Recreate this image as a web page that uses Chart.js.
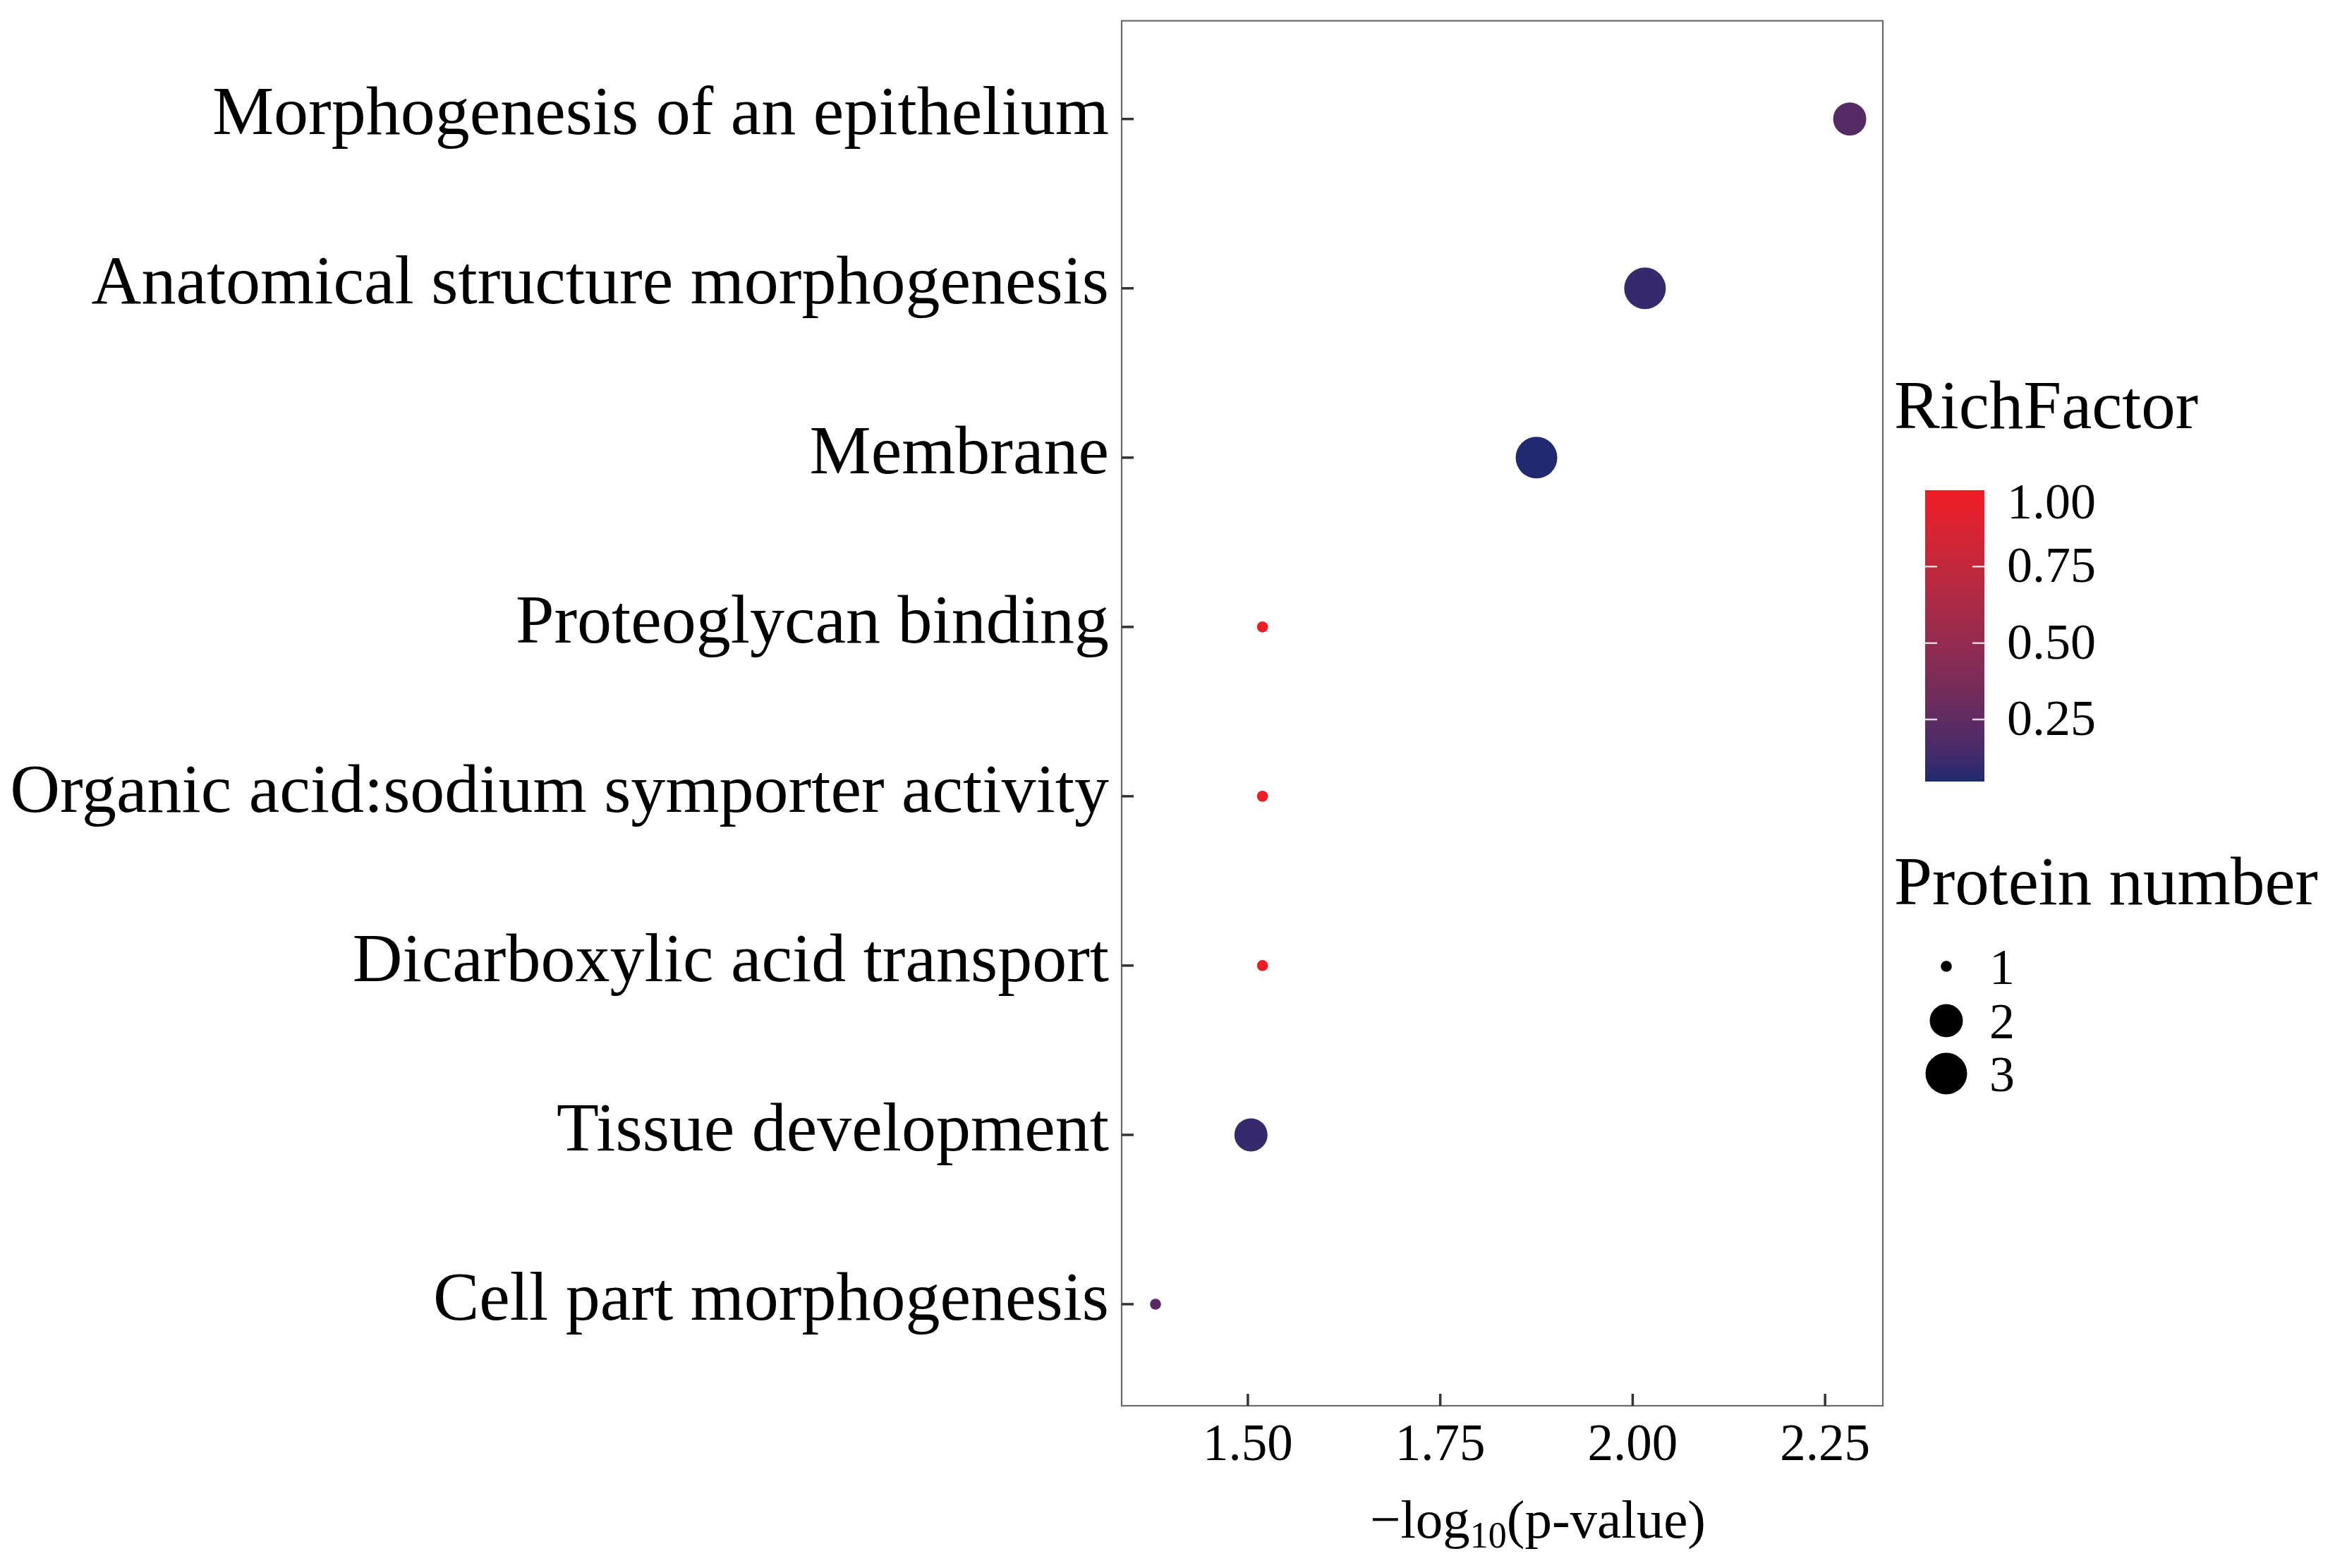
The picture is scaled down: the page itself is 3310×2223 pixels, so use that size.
<!DOCTYPE html>
<html><head><meta charset="utf-8">
<script src="https://cdn.jsdelivr.net/npm/chart.js@4.4.1/dist/chart.umd.min.js"></script>
<style>html,body{margin:0;padding:0;background:#fff;overflow:hidden}</style>
</head><body>
<canvas id="c" width="3310" height="2223" style="width:3310px;height:2223px;display:block"></canvas>
<script>
const categories = [
  "Morphogenesis of an epithelium",
  "Anatomical structure morphogenesis",
  "Membrane",
  "Proteoglycan binding",
  "Organic acid:sodium symporter activity",
  "Dicarboxylic acid transport",
  "Tissue development",
  "Cell part morphogenesis"
];
const negLog10P = [2.282, 2.016, 1.875, 1.519, 1.519, 1.519, 1.504, 1.380];
const richFactor = [0.20, 0.10, 0.05, 1.00, 1.00, 1.00, 0.10, 0.22];
const proteinNumber = [2, 3, 3, 1, 1, 1, 2, 1];
const xTickValues = [1.50, 1.75, 2.00, 2.25];
const colorbarTicks = [0.25, 0.50, 0.75, 1.00];
const sizeLegendValues = [1, 2, 3];

const FONT = "'Liberation Serif','Times New Roman',serif";
const RF_MIN = 0.047, RF_MAX = 1.0;
const LOW = [31, 42, 112], HIGH = [240, 28, 36];
const RADIUS = {1: 7.8, 2: 23.5, 3: 29.5};

function s2l(c){c/=255;return c<=0.04045?c/12.92:Math.pow((c+0.055)/1.055,2.4);}
function l2s(c){const v=c<=0.0031308?12.92*c:1.055*Math.pow(c,1/2.4)-0.055;return Math.round(Math.max(0,Math.min(1,v))*255);}
function rgb2lab(c){const r=s2l(c[0]),g=s2l(c[1]),b=s2l(c[2]);
  let x=(0.4124*r+0.3576*g+0.1805*b)/0.95047,y=(0.2126*r+0.7152*g+0.0722*b),z=(0.0193*r+0.1192*g+0.9505*b)/1.08883;
  const f=t=>t>0.008856?Math.cbrt(t):7.787*t+16/116;x=f(x);y=f(y);z=f(z);
  return [116*y-16,500*(x-y),200*(y-z)];}
function lab2rgb(l){let y=(l[0]+16)/116,x=l[1]/500+y,z=y-l[2]/200;
  const fi=t=>{const t3=t*t*t;return t3>0.008856?t3:(t-16/116)/7.787;};
  x=fi(x)*0.95047;y=fi(y);z=fi(z)*1.08883;
  return [l2s(3.2406*x-1.5372*y-0.4986*z),l2s(-0.9689*x+1.8758*y+0.0415*z),l2s(0.0557*x-0.2040*y+1.0570*z)];}
const LAB_LOW = rgb2lab(LOW), LAB_HIGH = rgb2lab(HIGH);
function rfColor(v){
  const t=Math.max(0,Math.min(1,(v-RF_MIN)/(RF_MAX-RF_MIN)));
  const c=lab2rgb([0,1,2].map(i=>LAB_LOW[i]+(LAB_HIGH[i]-LAB_LOW[i])*t));
  return `rgb(${c[0]},${c[1]},${c[2]})`;
}

const points = negLog10P.map((x,i)=>({x:x,y:i}));

const decor = {
  id:'decor',
  afterDraw(chart){
    const ctx=chart.ctx, a=chart.chartArea, xs=chart.scales.x, ys=chart.scales.y;
    ctx.save();
    ctx.strokeStyle='#6a6a6a'; ctx.lineWidth=2.2;
    ctx.strokeRect(a.left,a.top,a.right-a.left,a.bottom-a.top);
    ctx.strokeStyle='#333'; ctx.lineWidth=3.5;
    xTickValues.forEach(v=>{const px=xs.getPixelForValue(v);ctx.beginPath();ctx.moveTo(px,a.bottom);ctx.lineTo(px,a.bottom-17);ctx.stroke();});
    categories.forEach((c,i)=>{const py=ys.getPixelForValue(i);ctx.beginPath();ctx.moveTo(a.left,py);ctx.lineTo(a.left+17,py);ctx.stroke();});
    ctx.fillStyle='#000'; ctx.textBaseline='alphabetic'; ctx.textAlign='left';
    const big='77px '+FONT, small='52px '+FONT;
    ctx.font=big; const w1=ctx.measureText('\u2212log').width, w3=ctx.measureText('(p-value)').width;
    ctx.font=small; const w2=ctx.measureText('10').width;
    let x0=2180-(w1+w2+w3)/2; const yb=2180;
    ctx.font=big; ctx.fillText('\u2212log',x0,yb); x0+=w1;
    ctx.font=small; ctx.fillText('10',x0,yb+14); x0+=w2;
    ctx.font=big; ctx.fillText('(p-value)',x0,yb);
    ctx.font='97px '+FONT; ctx.fillText('RichFactor',2685,607);
    const cbL=2729,cbR=2813,cbT=695,cbB=1108;
    const g=ctx.createLinearGradient(0,cbB,0,cbT);
    for(let k=0;k<=40;k++){const t=k/40;g.addColorStop(t,rfColor(RF_MIN+(RF_MAX-RF_MIN)*t));}
    ctx.fillStyle=g; ctx.fillRect(cbL,cbT,cbR-cbL,cbB-cbT);
    const cbY=v=>cbB-(v-RF_MIN)/(RF_MAX-RF_MIN)*(cbB-cbT);
    ctx.strokeStyle='rgba(235,235,235,0.9)'; ctx.lineWidth=2.5;
    colorbarTicks.forEach(v=>{const py=cbY(v); if(v<RF_MAX){ctx.beginPath();ctx.moveTo(cbL,py);ctx.lineTo(cbL+17,py);ctx.moveTo(cbR-17,py);ctx.lineTo(cbR,py);ctx.stroke();}});
    ctx.fillStyle='#000'; ctx.font='72px '+FONT; ctx.textBaseline='middle';
    colorbarTicks.forEach(v=>{const py=Math.max(cbY(v)+3,cbT+21);ctx.fillText(v.toFixed(2),2845,py);});
    ctx.textBaseline='alphabetic'; ctx.font='97px '+FONT; ctx.fillText('Protein number',2685,1282);
    const sy=[1370,1447,1522];
    ctx.font='72px '+FONT; ctx.textBaseline='middle';
    sizeLegendValues.forEach((v,i)=>{
      ctx.fillStyle='#000'; ctx.beginPath(); ctx.arc(2759,sy[i],RADIUS[v],0,Math.PI*2); ctx.fill();
      ctx.fillText(String(v),2820,sy[i]+6);
    });
    ctx.restore();
  }
};

new Chart(document.getElementById('c'),{
  type:'scatter',
  data:{datasets:[{
    data:points,
    backgroundColor:richFactor.map(rfColor),
    pointRadius:proteinNumber.map(n=>RADIUS[n]),
    pointHoverRadius:proteinNumber.map(n=>RADIUS[n]),
    pointBorderWidth:0,
    borderWidth:0
  }]},
  options:{
    responsive:false, animation:false, devicePixelRatio:1,
    layout:{padding:{left:0,right:641,top:20,bottom:0}},
    plugins:{legend:{display:false},tooltip:{enabled:false}},
    scales:{
      x:{type:'linear',min:1.336,max:2.325,
        afterBuildTicks:s=>{s.ticks=xTickValues.map(v=>({value:v}));},
        afterFit:s=>{s.height=230;s.paddingLeft=0;s.paddingRight=0;},
        grid:{display:false,drawTicks:false},
        border:{display:false},
        ticks:{padding:14,color:'#000',font:{family:FONT,size:73},callback:v=>Number(v).toFixed(2)}
      },
      y:{type:'linear',reverse:true,min:-0.58,max:7.6,
        afterBuildTicks:s=>{s.ticks=categories.map((c,i)=>({value:i}));},
        afterFit:s=>{s.width=1590;s.paddingTop=0;s.paddingBottom=0;},
        grid:{display:false,drawTicks:false},
        border:{display:false},
        ticks:{padding:18,labelOffset:-4,color:'#000',font:{family:FONT,size:98},callback:v=>categories[v]}
      }
    }
  },
  plugins:[decor]
});
</script>
</body></html>
